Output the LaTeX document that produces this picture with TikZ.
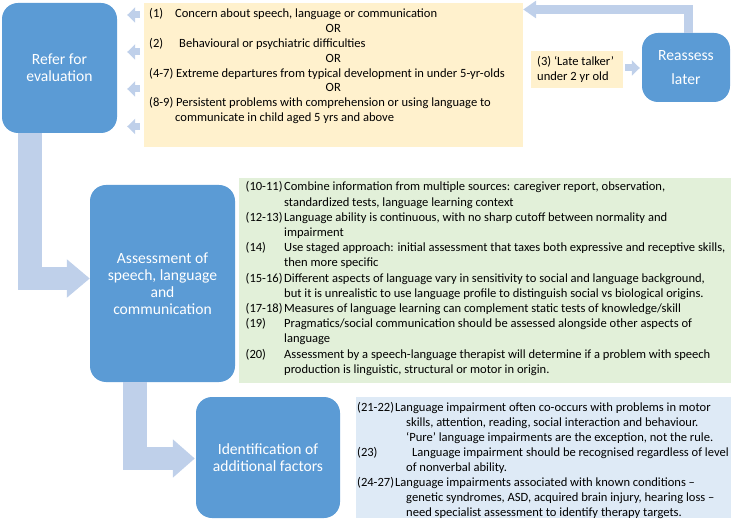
\documentclass[tikz,border=0pt]{standalone}
\usepackage{fontspec}
\setmainfont{Carlito}
\usetikzlibrary{arrows.meta,calc}
\definecolor{boxblue}{HTML}{5B9BD5}
\definecolor{arrowblue}{HTML}{BFD0EA}
\definecolor{yel}{HTML}{FFF1CD}
\definecolor{grn}{HTML}{E2F0D9}
\definecolor{lblue}{HTML}{DEEAF6}
\begin{document}
\begin{tikzpicture}[x=1pt,y=-1pt,
  bigbox/.style={fill=boxblue,draw=none,rounded corners=16pt,text=white,align=center,inner sep=0pt,
    font=\fontsize{15.6}{17}\selectfont},
  panel/.style={draw=none,inner sep=0pt},
  txt/.style={inner sep=0pt,anchor=base west,text=black},
  bigarrow/.style={draw=arrowblue,line width=23.5pt,line join=miter,
    -{Triangle[length=23pt,width=37pt]}},
  medarrow/.style={draw=arrowblue,line width=9pt,line join=miter,
    -{Triangle[length=13pt,width=17pt]}},
  smallarrow/.style={draw=arrowblue,line width=7pt,
    -{Triangle[length=8pt,width=15pt]}}]
\useasboundingbox (0,0) rectangle (733,526);

% boxes
\node[bigbox,minimum width=115pt,minimum height=130pt] (refer) at (59.5,68) {Refer for\\evaluation};
\node[bigbox,minimum width=88pt,minimum height=69pt,font=\fontsize{15.6}{24}\selectfont] (reassess) at (686,67.5) {Reassess\\later};
\node[bigbox,minimum width=145pt,minimum height=197pt] (assess) at (162.5,283.5) {Assessment of\\speech, language\\and\\communication};
\node[bigbox,minimum width=144pt,minimum height=121pt] (ident) at (268,457.5) {Identification of\\additional factors};

\node[panel,fill=yel,minimum width=379pt,minimum height=144pt] (yellow) at (333.5,75) {};
\node[panel,fill=yel,minimum width=92pt,minimum height=37pt] (late) at (577,69.5) {};
\node[panel,fill=grn,minimum width=492pt,minimum height=205pt] (green) at (485,280.5) {};
\node[panel,fill=lblue,minimum width=375pt,minimum height=121pt] (blue) at (543.5,457.5) {};

% texts
\node[txt] (ytext) at (149,17.5) {\fontsize{12.55}{14.9}\selectfont
\begin{tabular}[t]{@{}l@{}}
\makebox[26pt][l]{(1)}Concern about speech, language or communication\\
\hspace{176.5pt}OR\\
\makebox[26pt][l]{(2)}\hspace{4pt}Behavioural or psychiatric difficulties\\
\hspace{176.5pt}OR\\
(4-7) Extreme departures from typical development in under 5-yr-olds\\
\hspace{176.5pt}OR\\
(8-9) Persistent problems with comprehension or using language to\\
\hspace{26pt}communicate in child aged 5 yrs and above
\end{tabular}};

\node[txt] (ltext) at (537,66) {\fontsize{12.55}{15}\selectfont
\begin{tabular}[t]{@{}l@{}}
(3) ‘Late talker’\\
under 2 yr old
\end{tabular}};

\node[txt] (gtext) at (245.5,191) {\fontsize{12.55}{15.2}\selectfont
\begin{tabular}[t]{@{}l@{}l@{}}
\makebox[38.5pt][l]{(10-11)} & Combine information from multiple sources: caregiver report, observation,\\
 & standardized tests, language learning context\\
(12-13) & Language ability is continuous, with no sharp cutoff between normality and\\
 & impairment\\
(14) & Use staged approach: initial assessment that taxes both expressive and receptive skills,\\
 & then more specific\\
(15-16) & Different aspects of language vary in sensitivity to social and language background,\\
 & but it is unrealistic to use language profile to distinguish social vs biological origins.\\
(17-18) & Measures of language learning can complement static tests of knowledge/skill\\
(19) & Pragmatics/social communication should be assessed alongside other aspects of\\
 & language\\
(20) & Assessment by a speech-language therapist will determine if a problem with speech\\
 & production is linguistic, structural or motor in origin.
\end{tabular}};

\node[txt] (btext) at (357,411) {\fontsize{12.55}{15}\selectfont
\begin{tabular}[t]{@{}l@{}}
\makebox[38pt][l]{(21-22)}Language impairment often co-occurs with problems in motor\\
\hspace{49pt}skills, attention, reading, social interaction and behaviour.\\
\hspace{49pt}‘Pure’ language impairments are the exception, not the rule.\\
\makebox[38pt][l]{(23)}\hspace{17pt}Language impairment should be recognised regardless of level\\
\hspace{49pt}of nonverbal ability.\\
\makebox[38pt][l]{(24-27)}Language impairments associated with known conditions –\\
\hspace{49pt}genetic syndromes, ASD, acquired brain injury, hearing loss –\\
\hspace{49pt}need specialist assessment to identify therapy targets.
\end{tabular}};

% arrows
\draw[bigarrow] (refer.south -| 30,0) |- (assess.west |- 0,278.5);
\draw[bigarrow,-{Triangle[length=22pt,width=37pt]}] (assess.south -| 135,0) |- ([xshift=-1pt]ident.west |- 0,458.5);
\draw[medarrow] (reassess.north -| 688.5,0) |- (yellow.east |- 0,9.5);
\draw[smallarrow] ([xshift=2pt]late.east |- 0,68) -- ([xshift=-2pt]reassess.west |- 0,68);
\foreach \yy in {15,52,89,126.5}{
  \draw[smallarrow] ([xshift=-4pt]yellow.west |- 0,\yy) -- ([xshift=10pt]refer.east |- 0,\yy);
}
\end{tikzpicture}
\end{document}
